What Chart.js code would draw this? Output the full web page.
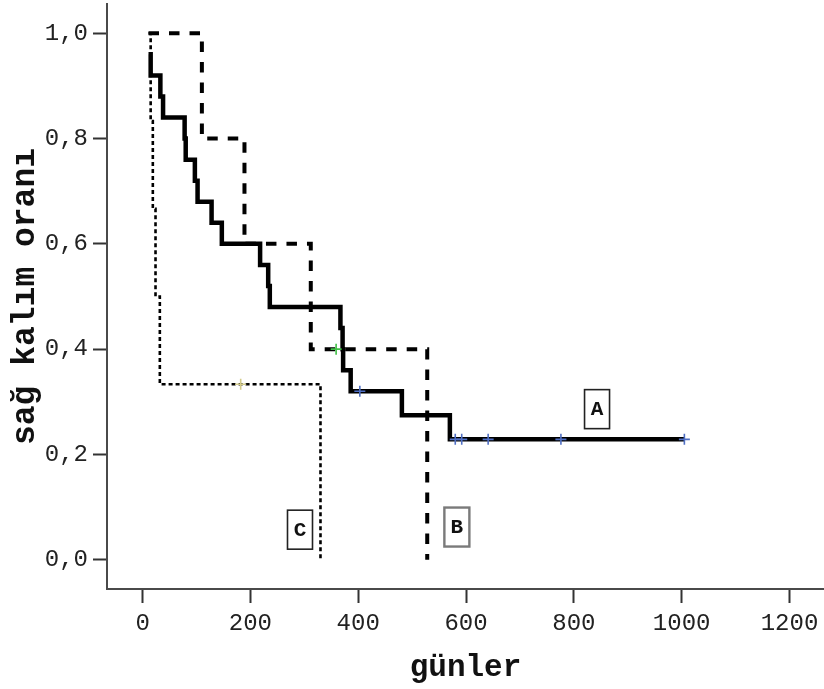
<!DOCTYPE html>
<html>
<head>
<meta charset="utf-8">
<script src="https://cdn.jsdelivr.net/npm/chart.js@4/dist/chart.umd.min.js"></script>
<style>
  html, body { margin: 0; padding: 0; background: #fff; }
  #wrap { width: 824px; height: 689px; }
</style>
</head>
<body>
<div id="wrap"><canvas id="km" width="824" height="689"></canvas></div>
<script>
// Kaplan-Meier steps: day of each step and survival proportion after it
const groupA_days = [11, 15, 33, 38, 78, 80, 97, 102, 128, 147, 218, 233, 236, 367, 371, 372, 386, 481, 570, 1005];
const groupA_surv = [0.96, 0.92, 0.88, 0.84, 0.80, 0.76, 0.72, 0.68, 0.64, 0.60, 0.56, 0.52, 0.48, 0.44, 0.40, 0.36, 0.32, 0.2743, 0.2286, 0.2286];
const groupA_censorDays = [403, 580, 592, 641, 776, 1005];
const groupA_censorSurv = [0.32, 0.2286, 0.2286, 0.2286, 0.2286, 0.2286];

const groupB_days = [11, 110, 189, 312, 528];
const groupB_surv = [1.0, 0.8, 0.6, 0.4, 0.0];
const groupB_censorDays = [359];
const groupB_censorSurv = [0.4];

const groupC_days = [11, 15, 19, 24, 32, 330];
const groupC_surv = [1.0, 0.8333, 0.6667, 0.5, 0.3333, 0.0];
const groupC_censorDays = [182];
const groupC_censorSurv = [0.3333];

// Group name tags and where they sit (day, survival)
const groupNames = ['A', 'B', 'C'];
const groupNameDays = [843, 583, 292];
const groupNameSurv = [0.286, 0.062, 0.057];

// Axis ticks
const xTicks = [0, 200, 400, 600, 800, 1000, 1200];
const yTicks = [0, 0.2, 0.4, 0.6, 0.8, 1.0];

const toPoints = (xs, ys) => xs.map((v, i) => ({ x: v, y: ys[i] }));

const MONO = "'Liberation Mono', 'Courier New', monospace";
const AXIS_COLOR = '#4a4a4a';

const stepLine = (xs, ys, width, dash, order) => ({
  type: 'line',
  data: toPoints(xs, ys),
  stepped: 'before',
  borderColor: '#000',
  borderWidth: width,
  borderDash: dash,
  borderCapStyle: 'butt',
  borderJoinStyle: 'miter',
  pointRadius: 0,
  fill: false,
  tension: 0,
  clip: false,
  order: order
});

const censorMarks = (xs, ys, color) => ({
  type: 'scatter',
  data: toPoints(xs, ys),
  showLine: false,
  pointStyle: 'cross',
  pointRadius: 5.5,
  pointBorderWidth: 1.6,
  pointBorderColor: color,
  pointBackgroundColor: color,
  clip: false,
  order: 0
});

// Fixed axis box sizes, no extra label padding around the plot
const fixBox = (size, key) => s => {
  s[key] = size;
  s.paddingTop = 0; s.paddingBottom = 0; s.paddingLeft = 0; s.paddingRight = 0;
};

const groupTagPlugin = {
  id: 'groupTags',
  afterDatasetsDraw(chart) {
    const { ctx, scales: { x, y } } = chart;
    ctx.save();
    groupNames.forEach((name, i) => {
      const cx = x.getPixelForValue(groupNameDays[i]);
      const cy = y.getPixelForValue(groupNameSurv[i]);
      const w = 25, h = 39;
      ctx.fillStyle = '#fff';
      ctx.fillRect(cx - w / 2, cy - h / 2, w, h);
      ctx.strokeStyle = name === 'B' ? '#7a7a7a' : '#222';
      ctx.lineWidth = name === 'B' ? 2.4 : 1.6;
      ctx.strokeRect(cx - w / 2, cy - h / 2, w, h);
      ctx.fillStyle = '#111';
      ctx.font = 'bold 21px ' + MONO;
      ctx.textAlign = 'center';
      ctx.textBaseline = 'middle';
      ctx.fillText(name, cx, cy + 1);
    });
    ctx.restore();
  }
};

new Chart(document.getElementById('km'), {
  data: {
    datasets: [
      censorMarks(groupA_censorDays, groupA_censorSurv, '#4f6fc4'),
      censorMarks(groupB_censorDays, groupB_censorSurv, '#3fbf45'),
      censorMarks(groupC_censorDays, groupC_censorSurv, '#d4cc8c'),
      stepLine(groupA_days, groupA_surv, 4.5, [], 1),
      stepLine(groupB_days, groupB_surv, 4, [10.5, 10], 2),
      stepLine(groupC_days, groupC_surv, 2.6, [4, 3], 3)
    ]
  },
  options: {
    responsive: false,
    animation: false,
    events: [],
    layout: { autoPadding: false, padding: { top: 4, right: 0, bottom: 0, left: 0 } },
    plugins: {
      legend: { display: false },
      tooltip: { enabled: false }
    },
    scales: {
      x: {
        type: 'linear',
        min: -66,
        max: 1264,
        afterBuildTicks: s => { s.ticks = xTicks.map(v => ({ value: v })); },
        afterFit: fixBox(100, 'height'),
        ticks: {
          color: '#222',
          font: { family: MONO, size: 24 },
          padding: 6,
          maxRotation: 0,
          callback: v => String(v)
        },
        grid: {
          drawOnChartArea: false,
          drawTicks: true,
          tickLength: 14,
          tickColor: '#333',
          tickWidth: 2
        },
        border: { display: true, color: AXIS_COLOR, width: 2 },
        title: {
          display: true,
          text: 'günler',
          color: '#111',
          font: { family: MONO, size: 31, weight: 'bold' },
          padding: { top: 0, bottom: 2 }
        }
      },
      y: {
        type: 'linear',
        min: -0.0557,
        max: 1.0557,
        afterBuildTicks: s => { s.ticks = yTicks.map(v => ({ value: v })); },
        afterFit: fixBox(107, 'width'),
        ticks: {
          color: '#222',
          font: { family: MONO, size: 24 },
          padding: 5,
          callback: v => v.toFixed(1).replace('.', ',')
        },
        grid: {
          drawOnChartArea: false,
          drawTicks: true,
          tickLength: 14,
          tickColor: '#333',
          tickWidth: 2
        },
        border: { display: true, color: AXIS_COLOR, width: 2 },
        title: {
          display: true,
          text: 'sağ kalım oranı',
          color: '#111',
          font: { family: MONO, size: 33, weight: 'bold' },
          padding: { top: 6, bottom: 0 }
        }
      }
    }
  },
  plugins: [groupTagPlugin]
});
</script>
</body>
</html>
